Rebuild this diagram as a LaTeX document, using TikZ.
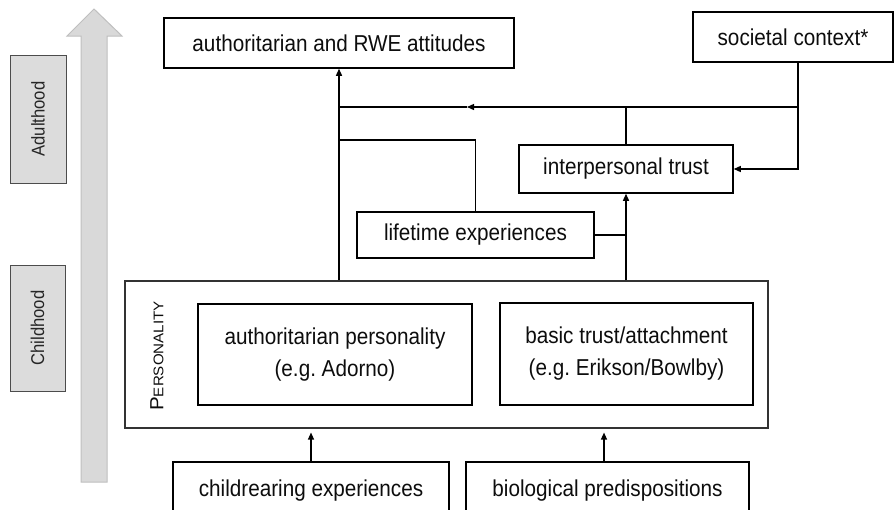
\documentclass[tikz,border=0pt]{standalone}
\usepackage{fontspec}
\usepackage{graphicx}
\setmainfont{Liberation Sans}[FakeStretch=0.9]
\usetikzlibrary{arrows.meta}
\frenchspacing
\definecolor{agebox}{HTML}{DCDCDC}
\definecolor{bigarrow}{HTML}{D9D9D9}
\definecolor{txt}{HTML}{0D0D0D}
\tikzset{
  box/.style={draw=black, line width=1.5pt, fill=white, inner sep=0pt, text=txt,
    font=\fontsize{23}{32}\selectfont, align=center},
  outerbox/.style={draw=black!80, line width=1.1pt, inner sep=0pt},
  agestage/.style={draw=black!70, line width=1pt, fill=agebox, inner sep=0pt},
  agetext/.style={rotate=90, text=black!85, font=\fontsize{18.5}{20}\selectfont},
  conn/.style={line width=1.3pt, draw=black},
  tip/.style={-{Triangle[length=7pt,width=6pt]}},
}
\begin{document}
\begin{tikzpicture}[x=1pt,y=-1pt]
\useasboundingbox (0,0) rectangle (894,509);

% big timeline arrow
\draw[fill=bigarrow, draw=black!25, line width=1pt]
  (81,482) -- (81,36) -- (67,36) -- (94,9) -- (122,36) -- (107,36) -- (107,482) -- cycle;

% age stages
\node[agestage, minimum width=56pt, minimum height=128pt] (adult) at (38,119) {};
\node[agetext] (adulttxt) at (adult.center) {Adulthood};
\node[agestage, minimum width=55pt, minimum height=126pt] (child) at (37.5,328) {};
\node[agetext] (childtxt) at (child.center) {Childhood};

% boxes
\node[box, minimum width=350pt, minimum height=50pt] (att) at (339,43) {authoritarian and RWE attitudes};
\node[box, minimum width=200pt, minimum height=50pt] (soc) at (793,37) {societal context*};
\node[box, minimum width=214pt, minimum height=48pt] (ipt) at (626,169) {interpersonal trust};
\node[box, minimum width=237pt, minimum height=46pt] (life) at (475.5,235) {lifetime experiences};

\node[outerbox, minimum width=643pt, minimum height=147pt] (pers) at (446.5,354.5) {};
\node[rotate=90, text=txt] (perstxt) at (157,356)
  {\scalebox{1.2}[1]{{\fontsize{19}{20}\selectfont P}{\fontsize{14}{15}\selectfont ERSONALITY}}};
\node[box, minimum width=274pt, minimum height=101pt] (auth) at (335,354.5)
  {authoritarian personality\\(e.g. Adorno)};
\node[box, minimum width=253pt, minimum height=102pt] (basic) at (626.5,354)
  {basic trust/attachment\\(e.g. Erikson/Bowlby)};

\node[box, minimum width=276pt, minimum height=58pt] (crear) at (311,491) {childrearing experiences};
\node[box, minimum width=283pt, minimum height=58pt] (bio) at (607.5,491) {biological predispositions};

% connectors
\coordinate (j1) at (339,107);
\coordinate (j2) at (798,107);
\coordinate (jm) at (467,107);
\coordinate (j3) at (339,140);
\coordinate (bx) at (604,0);

\draw[conn, tip] (pers.north -| att.south) -- (att.south);
\draw[conn, tip] (soc.south -| j2) |- (ipt.east);
\draw[conn, tip] (j2) -- (jm);
\draw[conn] (jm) -- (j1);
\draw[conn] (ipt.north) -- (ipt.north |- j1);
\draw[conn] (j3) -| (life.north);
\draw[conn] (life.east) -- (life.east -| ipt.south);
\draw[conn, tip] (pers.north -| ipt.south) -- (ipt.south);
\draw[conn, tip, shorten >=4pt] (crear.north) -- (crear.north |- pers.south);
\draw[conn, tip, shorten >=4pt] (bio.north -| bx) -- (pers.south -| bx);
\end{tikzpicture}
\end{document}
